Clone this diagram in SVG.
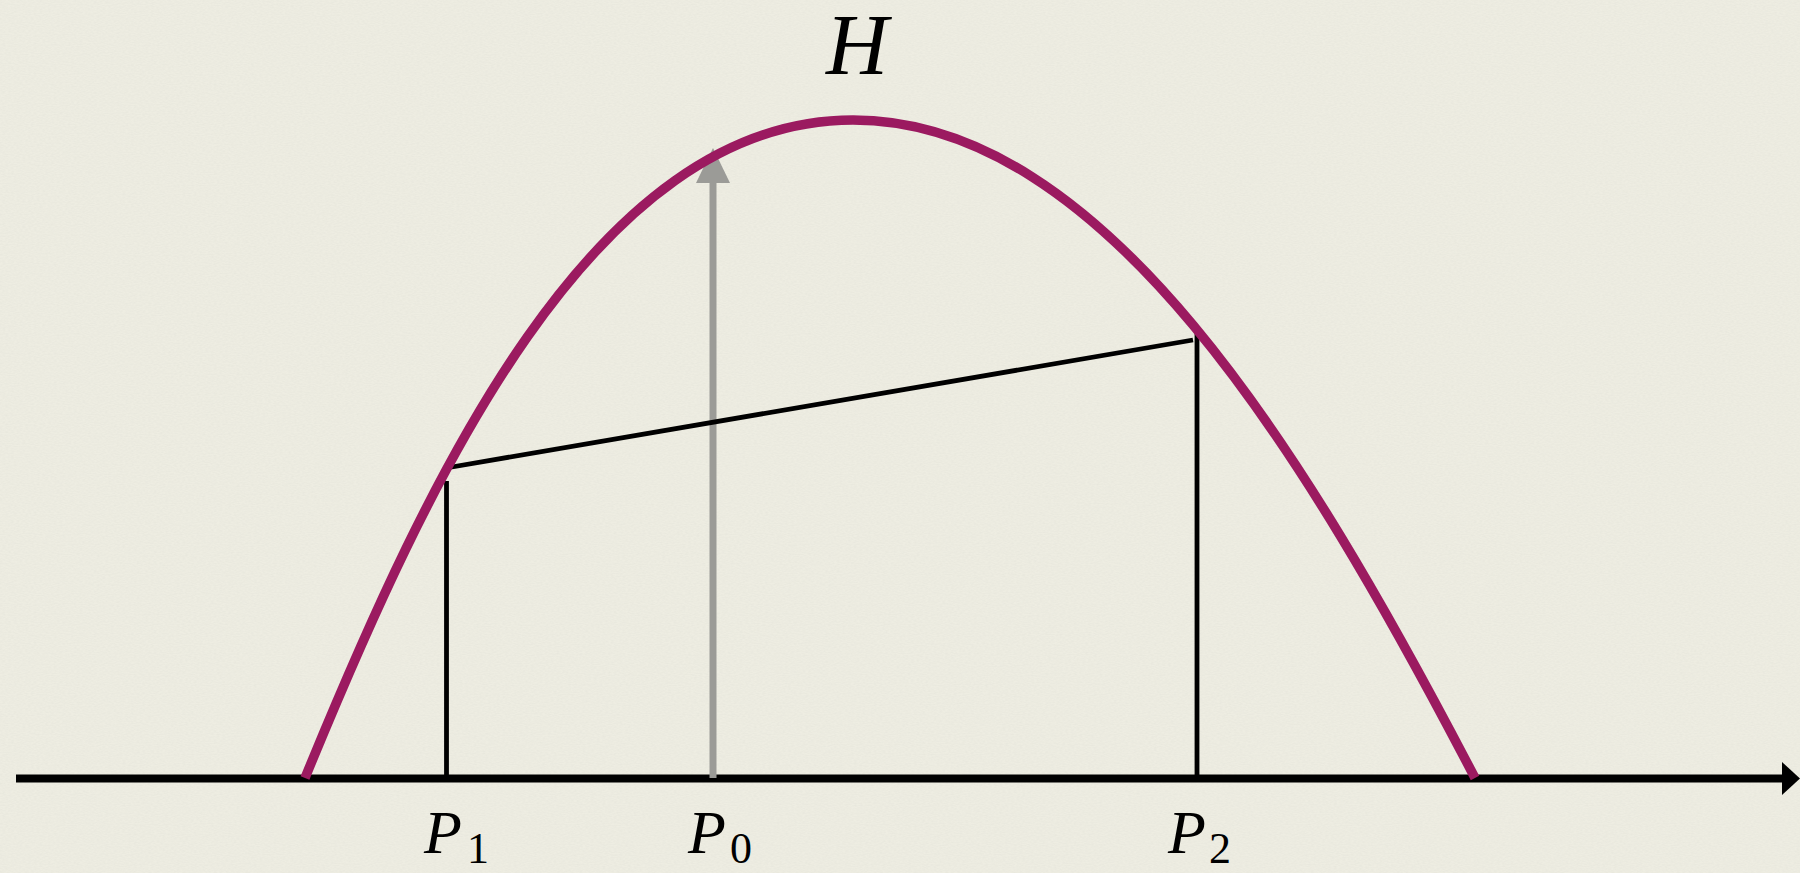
<svg xmlns="http://www.w3.org/2000/svg" width="1800" height="873" viewBox="0 0 1800 873">
<style>
.bg{fill:#eeede2}
.curve{fill:none;stroke:#9b1a60;stroke-width:9.5}
.thin{stroke:#000;stroke-width:4.8;fill:none}
.axis{stroke:#000;stroke-width:8;fill:none}
.gray{stroke:#9b9b97;stroke-width:7;fill:none}
.lbl{font-family:"Liberation Serif","Times New Roman",serif;font-style:italic;fill:#000}
.sub{font-style:normal}
</style>
<defs>
<filter id="paper" x="0" y="0" width="100%" height="100%">
<feTurbulence type="fractalNoise" baseFrequency="0.35 0.9" numOctaves="2" seed="3" result="n"/>
<feColorMatrix in="n" type="matrix" values="0 0 0 0 0.55  0 0 0 0 0.56  0 0 0 0 0.52  0 0 0 0.22 -0.06"/>
</filter>
</defs>
<rect class="bg" x="0" y="0" width="1800" height="873"/>
<rect x="0" y="0" width="1800" height="873" filter="url(#paper)"/>
<g id="connectors">
<g id="axis">
<line class="axis" x1="16" y1="778.5" x2="1784" y2="778.5"/>
<polygon points="1782,762 1800,778.5 1782,795" fill="#000"/>
</g>
<g id="p0-arrow">
<line class="gray" x1="713" y1="778" x2="713" y2="180"/>
<polygon points="713,148 696,183 730,183" fill="#9b9b97"/>
</g>
<line id="p1-vertical" class="thin" x1="446.5" y1="481" x2="446.5" y2="778"/>
<line id="p2-vertical" class="thin" x1="1197" y1="329" x2="1197" y2="778"/>
<line id="chord" class="thin" x1="446" y1="468" x2="1193" y2="340"/>
</g>
<g id="curve-H">
<path class="curve" d="M305,778 C428,478 593,120 853,120 C1103,120 1303,448 1475,778"/>
</g>
<g id="label-H"><text class="lbl" x="826" y="74" font-size="86">H</text></g>
<g id="label-P1"><text class="lbl" x="424" y="853" font-size="62">P<tspan class="sub" x="467" y="863" font-size="44">1</tspan></text></g>
<g id="label-P0"><text class="lbl" x="688" y="853" font-size="62">P<tspan class="sub" x="730" y="863" font-size="44">0</tspan></text></g>
<g id="label-P2"><text class="lbl" x="1168" y="853" font-size="62">P<tspan class="sub" x="1209" y="863" font-size="44">2</tspan></text></g>
</svg>
